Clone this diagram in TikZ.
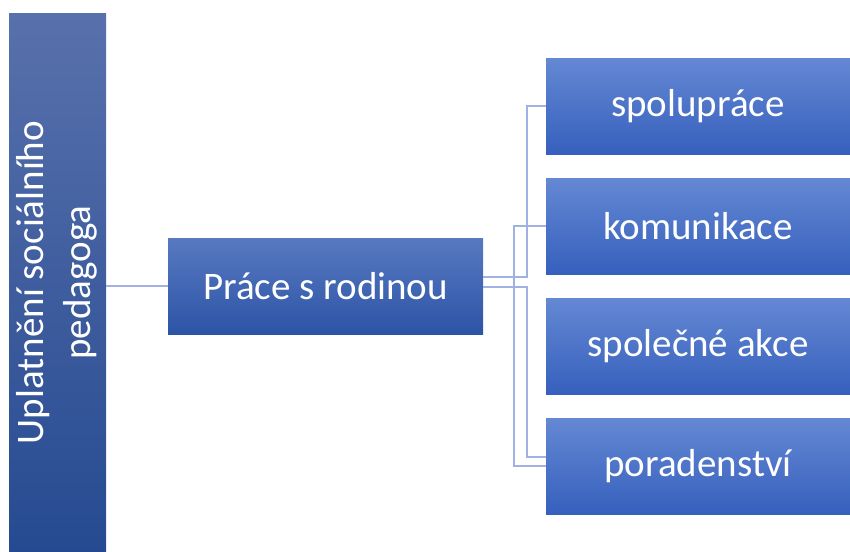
\documentclass[tikz,border=0pt]{standalone}
\usepackage{fontspec}
\setmainfont{Carlito}
\definecolor{lbtop}{RGB}{88,113,172}
\definecolor{lbbot}{RGB}{38,74,145}
\definecolor{mbtop}{RGB}{88,121,193}
\definecolor{mbbot}{RGB}{44,84,166}
\definecolor{rbtop}{RGB}{100,136,211}
\definecolor{rbbot}{RGB}{54,96,189}
\definecolor{connc}{RGB}{160,178,226}
\tikzset{
  boxbase/.style={rectangle, inner sep=0pt, text=white, font=\fontsize{39}{47}\selectfont},
  leftbox/.style={boxbase, top color=lbtop, bottom color=lbbot, minimum width=97pt, minimum height=537pt},
  midbox/.style={boxbase, top color=mbtop, bottom color=mbbot, minimum width=315pt, minimum height=96pt},
  rightbox/.style={boxbase, top color=rbtop, bottom color=rbbot, minimum width=304pt, minimum height=96pt},
  conn/.style={draw=connc, line width=1.6pt}
}
\begin{document}
\begin{tikzpicture}[x=1pt,y=-1pt]
\useasboundingbox (0,0) rectangle (850,551);
\node[leftbox] (lb) at (57.5,282.5) {\rotatebox{90}{\begin{tabular}{@{}c@{}}Uplatnění sociálního\\pedagoga\end{tabular}}};
\node[midbox] (mb) at (325.5,286) {Práce s rodinou};
\node[rightbox] (sp) at (698,106) {spolupráce};
\node[rightbox] (ko) at (698,226) {komunikace};
\node[rightbox] (sa) at (698,346) {společné akce};
\node[rightbox] (po) at (698,466) {poradenství};
\draw[conn] (mb.west -| lb.east) -- (mb.west);
\draw[conn] ([yshift=9pt]mb.east) -- ++(44,0) |- (sp.west);
\draw[conn] ([yshift=-1pt]mb.east) -- ++(44,0) |- ([yshift=9pt]po.west);
\draw[conn] (ko.west) -- ++(-32,0) |- (po.west);
\end{tikzpicture}
\end{document}
